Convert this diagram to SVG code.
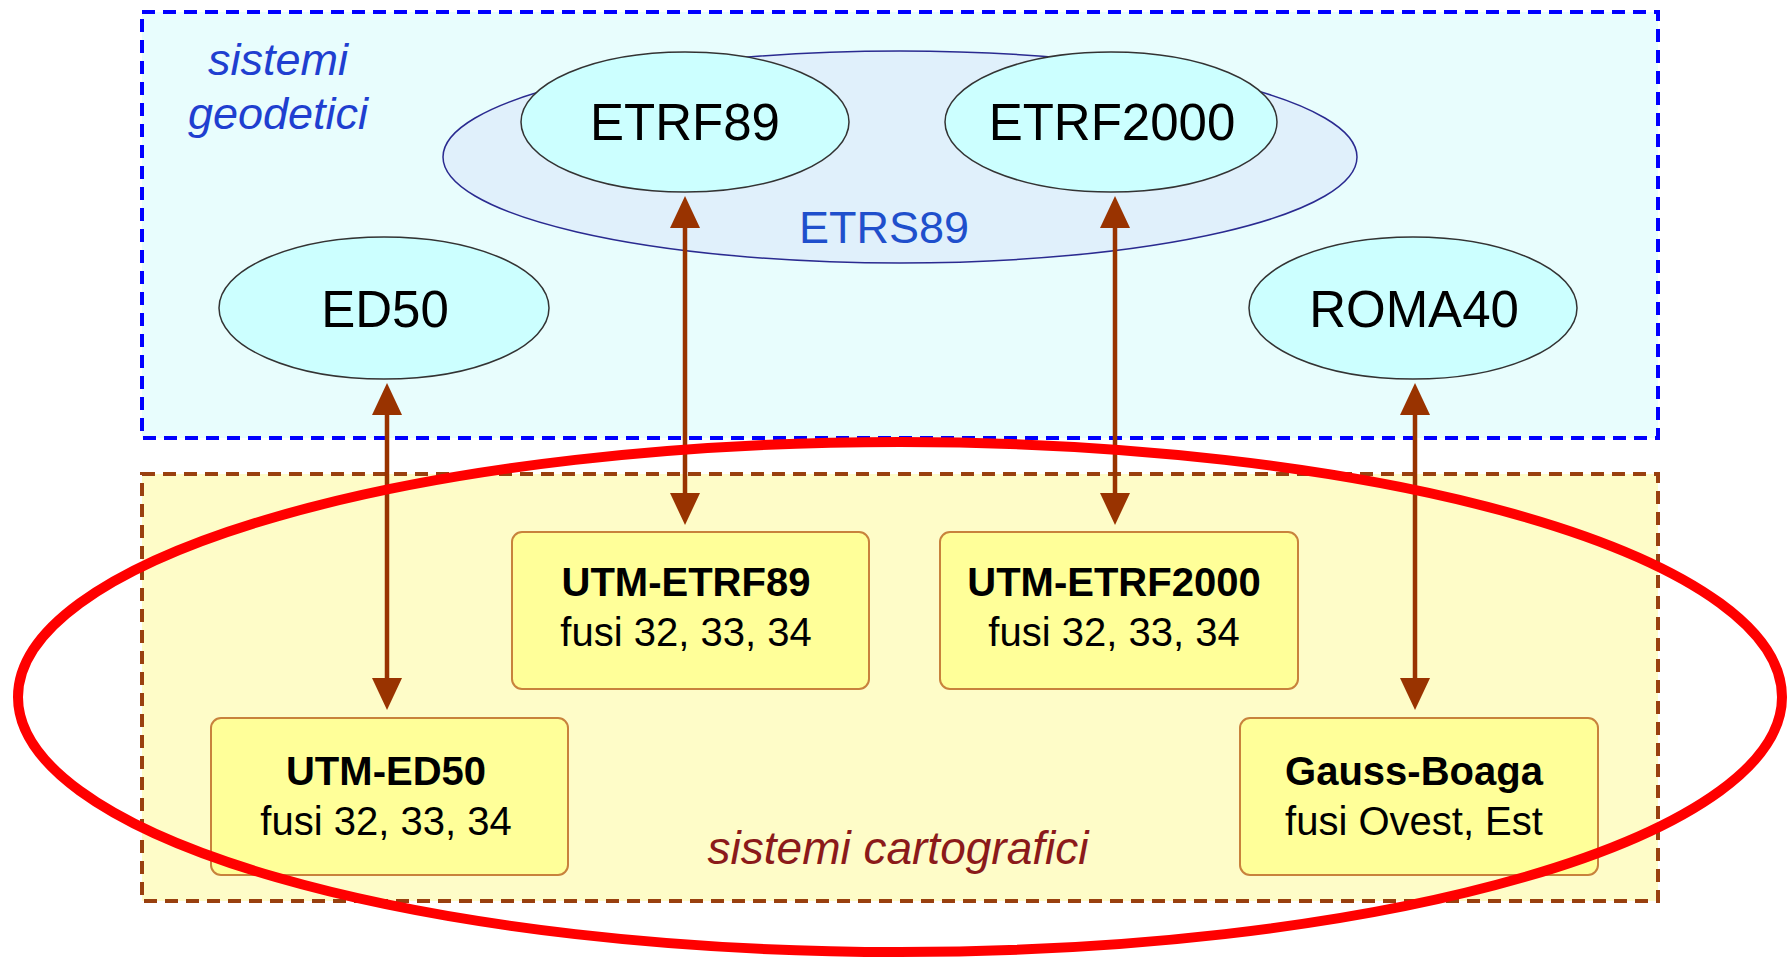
<svg xmlns="http://www.w3.org/2000/svg" width="1789" height="958" viewBox="0 0 1789 958">
<style>
.geo{fill:#e8fdfd;stroke:#0000ff;stroke-width:4;stroke-dasharray:13 8}
.carto{fill:#fefcc8;stroke:#99400f;stroke-width:4;stroke-dasharray:13 8}
.ell{fill:#ccffff;stroke:#333;stroke-width:1.5}
.box{fill:#ffff99;stroke:#c8823c;stroke-width:2}
.t{font-family:"Liberation Sans",Arial,sans-serif;text-anchor:middle;fill:#000}
.big{font-size:51px}
.b{font-size:40px;font-weight:bold}
.r{font-size:40px}
.lab{font-family:"Liberation Sans",Arial,sans-serif;text-anchor:middle;font-style:italic;font-size:45px}
.conn{stroke:#993300;stroke-width:4.5;fill:none;marker-start:url(#ah);marker-end:url(#ah)}
</style>
<defs>
<marker id="ah" markerUnits="userSpaceOnUse" markerWidth="34" markerHeight="32" refX="12" refY="15" orient="auto-start-reverse" viewBox="0 0 34 30">
<path d="M0,0 L32,15 L0,30 z" fill="#993300"/>
</marker>
</defs>
<rect width="1789" height="958" fill="#fff"/>
<g id="geodetici">
<rect class="geo" x="142" y="12" width="1516" height="426"/>
<text class="lab" x="278" y="75" fill="#1f3fd0">sistemi</text>
<text class="lab" x="278" y="129" fill="#1f3fd0">geodetici</text>
</g>
<g id="cartografici">
<rect class="carto" x="142" y="474" width="1516" height="427"/>
<text class="lab" x="898" y="864" fill="#8b1a1a" style="font-size:46px">sistemi cartografici</text>
</g>
<g id="etrs89">
<ellipse cx="900" cy="157" rx="457" ry="106" fill="#e0f0fb" stroke="#2a2a90" stroke-width="1.5"/>
<text class="t" x="884" y="243" style="font-size:45px;fill:#1f4fcc">ETRS89</text>
</g>
<g id="etrf89">
<ellipse class="ell" cx="685" cy="122" rx="164" ry="70"/>
<text class="t big" x="685" y="140">ETRF89</text>
</g>
<g id="etrf2000">
<ellipse class="ell" cx="1111" cy="122" rx="166" ry="70"/>
<text class="t big" x="1112" y="140">ETRF2000</text>
</g>
<g id="ed50">
<ellipse class="ell" cx="384" cy="308" rx="165" ry="71"/>
<text class="t big" x="385" y="327">ED50</text>
</g>
<g id="roma40">
<ellipse class="ell" cx="1413" cy="308" rx="164" ry="71"/>
<text class="t big" x="1414" y="327">ROMA40</text>
</g>
<g id="utm-etrf89">
<rect class="box" x="512" y="532" width="357" height="157" rx="10"/>
<text class="t b" x="686" y="596">UTM-ETRF89</text>
<text class="t r" x="686" y="646">fusi 32, 33, 34</text>
</g>
<g id="utm-etrf2000">
<rect class="box" x="940" y="532" width="358" height="157" rx="10"/>
<text class="t b" x="1114" y="596">UTM-ETRF2000</text>
<text class="t r" x="1114" y="646">fusi 32, 33, 34</text>
</g>
<g id="utm-ed50">
<rect class="box" x="211" y="718" width="357" height="157" rx="10"/>
<text class="t b" x="386" y="785">UTM-ED50</text>
<text class="t r" x="386" y="835">fusi 32, 33, 34</text>
</g>
<g id="gauss-boaga">
<rect class="box" x="1240" y="718" width="358" height="157" rx="10"/>
<text class="t b" x="1414" y="785">Gauss-Boaga</text>
<text class="t r" x="1414" y="835">fusi Ovest, Est</text>
</g>
<g id="connectors">
<line class="conn" x1="387" y1="403" x2="387" y2="690"/>
<line class="conn" x1="685" y1="216" x2="685" y2="505"/>
<line class="conn" x1="1115" y1="216" x2="1115" y2="505"/>
<line class="conn" x1="1415" y1="403" x2="1415" y2="690"/>
</g>
<g id="highlight">
<ellipse cx="900" cy="697" rx="882" ry="255" fill="none" stroke="#ff0000" stroke-width="10"/>
</g>
</svg>
